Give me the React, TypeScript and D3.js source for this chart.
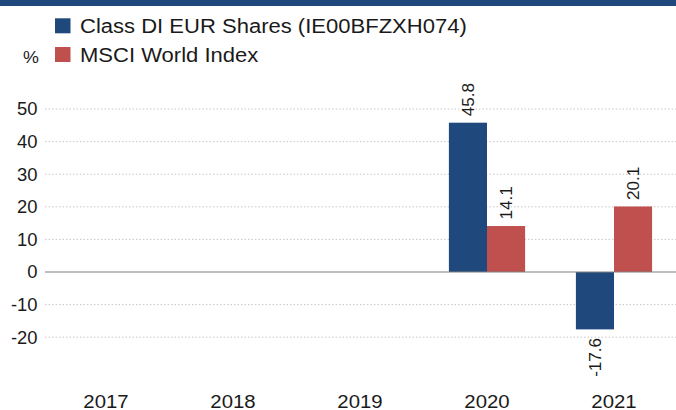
import React from "react";
import * as d3 from "d3";

const years = ["2017", "2018", "2019", "2020", "2021"];
const seriesNames = ["Class DI EUR Shares (IE00BFZXH074)", "MSCI World Index"];
const fundValues: (number | null)[] = [null, null, null, 45.8, -17.6];
const indexValues: (number | null)[] = [null, null, null, 14.1, 20.1];
const yTicks = [-20, -10, 0, 10, 20, 30, 40, 50];
const colors = ["#1F497D", "#C0504D"];

const W = 676;
const H = 410;
const FONT = "'Liberation Sans', Arial, Helvetica, sans-serif";
const INK = "#1a1a1a";

export default function App() {
  const x = d3.scaleBand<string>().domain(years).range([42.5, 677.5]).paddingInner(0.4).paddingOuter(0.2);
  const x1 = d3.scaleBand<number>().domain([0, 1]).range([0, x.bandwidth()]);
  const y = d3.scaleLinear().domain([0, 50]).range([272, 109]);
  const series = [fundValues, indexValues];
  const gridX0 = 45;
  const gridX1 = 676;

  return (
    <svg width={W} height={H} style={{ position: "absolute", left: 0, top: 0, display: "block" }} fontFamily={FONT}>
      <rect x={0} y={0} width={W} height={H} fill="#fff" />
      <rect x={0} y={0} width={W} height={6} fill="#1F497D" />
      {/* legend */}
      {seriesNames.map((n, i) => (
        <g key={n}>
          <rect x={55} y={18.3 + i * 28.7} width={15.5} height={15} fill={colors[i]} />
          <text transform={`translate(80,${32.5 + i * 29}) scale(1.13,1)`} fontSize={19.5} fill={INK}>{n}</text>
        </g>
      ))}
      <text transform="translate(23,63) scale(1.05,1)" fontSize={17} fill={INK}>%</text>
      {/* grid */}
      {yTicks.map((t) => (
        <g key={t}>
          {t !== 0 && (
            <line x1={gridX0} x2={gridX1} y1={y(t)} y2={y(t)} stroke="#c8c8c8" strokeWidth={1} strokeDasharray="1.5,2" />
          )}
          <text transform={`translate(37.5,${y(t)}) scale(1.05,1)`} dy="0.36em" fontSize={17.5} textAnchor="end" fill={INK}>{t}</text>
        </g>
      ))}
      {/* bars */}
      {years.map((yr, gi) => (
        <g key={yr}>
          {series.map((s, si) => {
            const v = s[gi];
            if (v == null) return null;
            const bx = (x(yr) as number) + (x1(si) as number);
            const bw = x1.bandwidth();
            const top = Math.min(y(v), y(0));
            const h = Math.abs(y(v) - y(0));
            const cx = bx + bw / 2;
            const ly = v >= 0 ? y(v) - 6.5 : y(v) + 8.5;
            return (
              <g key={si}>
                <rect x={bx} y={top} width={bw} height={h} fill={colors[si]} />
                <text
                  transform={`translate(${cx},${ly}) rotate(-90) scale(1.07,1)`}
                  textAnchor={v >= 0 ? "start" : "end"}
                  dy="0.35em"
                  fontSize={16}
                  fill={INK}
                >
                  {v.toFixed(1)}
                </text>
              </g>
            );
          })}
          <text
            transform={`translate(${(x(yr) as number) + x.bandwidth() / 2},407.8) scale(1.1,1)`}
            fontSize={18.5}
            textAnchor="middle"
            fill={INK}
          >
            {yr}
          </text>
        </g>
      ))}
      <line x1={gridX0} x2={gridX1} y1={y(0)} y2={y(0)} stroke="#808080" strokeWidth={1.2} />
    </svg>
  );
}
